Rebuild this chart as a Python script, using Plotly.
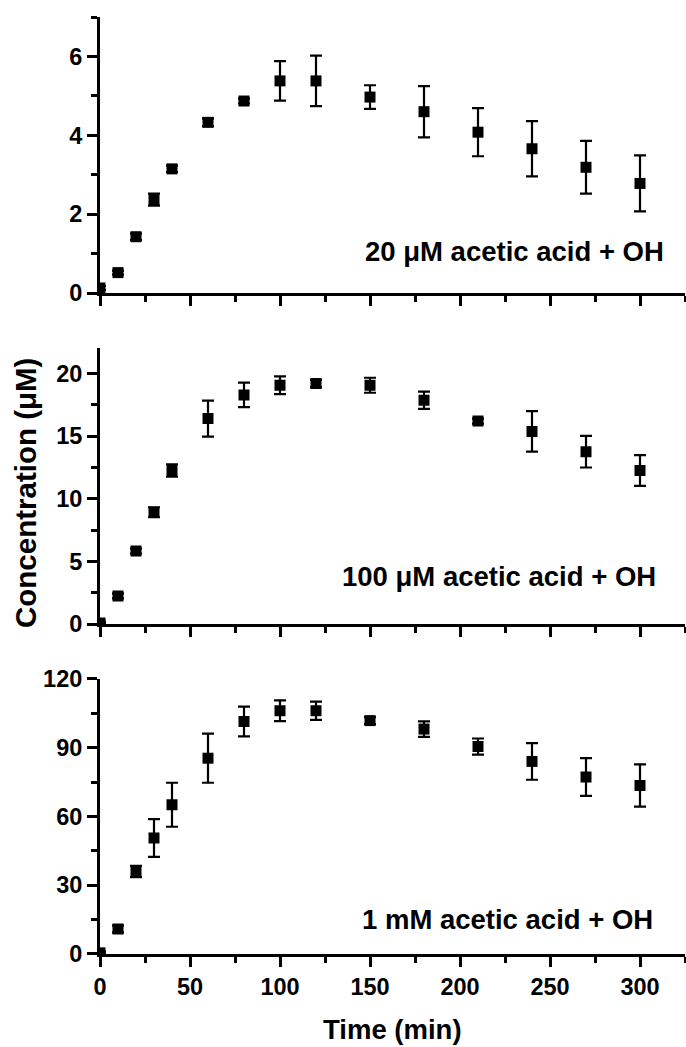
import plotly.graph_objects as go

# ---- data ----
time_min = [0, 10, 20, 30, 40, 60, 80, 100, 120, 150, 180, 210, 240, 270, 300]

conc_20uM = [0.13, 0.52, 1.43, 2.37, 3.15, 4.33, 4.87, 5.38, 5.38, 4.97, 4.60, 4.08, 3.66, 3.19, 2.78]
err_20uM = [0.05, 0.05, 0.08, 0.15, 0.08, 0.1, 0.06, 0.50, 0.64, 0.30, 0.65, 0.61, 0.70, 0.67, 0.71]

conc_100uM = [0.1, 2.26, 5.84, 8.93, 12.26, 16.4, 18.29, 19.06, 19.2, 19.06, 17.86, 16.2, 15.38, 13.76, 12.26]
err_100uM = [0.1, 0.2, 0.2, 0.4, 0.5, 1.43, 0.98, 0.70, 0.30, 0.60, 0.69, 0.2, 1.62, 1.26, 1.22]

conc_1mM = [0.5, 10.9, 36.0, 50.6, 65.1, 85.4, 101.4, 106.1, 106.1, 101.8, 98.1, 90.5, 84.0, 77.2, 73.5]
err_1mM = [0.5, 1.5, 2.5, 8.2, 9.6, 10.7, 6.5, 4.5, 4.0, 1.5, 3.4, 3.5, 8.0, 8.2, 9.2]

panel_labels = ["20 μM acetic acid + OH", "100 μM acetic acid + OH", "1 mM acetic acid + OH"]
x_title = "Time (min)"
y_title = "Concentration (μM)"

FONT = "Liberation Sans, Arial, sans-serif"

series = [
    (conc_20uM, err_20uM, "x", "y"),
    (conc_100uM, err_100uM, "x2", "y2"),
    (conc_1mM, err_1mM, "x3", "y3"),
]

fig = go.Figure()
for vals, errs, xa, ya in series:
    fig.add_trace(go.Scatter(
        x=time_min, y=vals, mode="markers", xaxis=xa, yaxis=ya,
        marker=dict(symbol="square", size=11, color="black"),
        error_y=dict(type="data", array=errs, visible=True, color="black",
                     thickness=2.2, width=6),
        showlegend=False,
    ))

H = 1047
top_px, bot_px = 16.7, 954.3
plot_h = bot_px - top_px

def dom(y_top, y_bot):
    return [(bot_px - y_bot) / plot_h, (bot_px - y_top) / plot_h]

domains = [dom(16.7, 293), dom(348.3, 624.3), dom(679, 954.3)]

axis_common = dict(
    showline=True, linewidth=3, linecolor="black", ticks="outside",
    ticklen=10, tickwidth=3, tickcolor="black", showgrid=False, zeroline=False,
    automargin=False,
    tickfont=dict(family=FONT, size=23.5, color="black", weight="bold"),
)

yranges = [(0, 7, 2, 1), (0, 22, 5, 2.5), (0, 120, 30, 15)]

layout = dict(
    width=686, height=H,
    margin=dict(l=100, r=1, t=17, b=93, autoexpand=False),
    plot_bgcolor="white", paper_bgcolor="white",
    font=dict(family=FONT, color="black"),
)

for i in range(3):
    sfx = "" if i == 0 else str(i + 1)
    layout["xaxis" + sfx] = dict(
        axis_common, domain=[0, 1], range=[0, 325], tick0=0, dtick=50,
        anchor="y" + sfx, showticklabels=(i == 2),
        minor=dict(ticks="outside", ticklen=6, tickwidth=3, tickcolor="black", dtick=25, tick0=0),
    )
    lo, hi, dt, mdt = yranges[i]
    layout["yaxis" + sfx] = dict(
        axis_common, domain=domains[i], range=[lo, hi], tick0=0, dtick=dt,
        anchor="x" + sfx,
        minor=dict(ticks="outside", ticklen=6, tickwidth=3, tickcolor="black", dtick=mdt, tick0=0),
    )

fig.update_layout(**layout)

label_pos = [(0.9675, 0.149), (0.954, 0.172), (0.949, 0.125)]
for i, (lab, (xd, yd)) in enumerate(zip(panel_labels, label_pos)):
    sfx = "" if i == 0 else str(i + 1)
    fig.add_annotation(
        text=lab, xref="x" + sfx + " domain", yref="y" + sfx + " domain",
        x=xd, y=yd, xanchor="right", yanchor="middle", showarrow=False,
        font=dict(family=FONT, size=27.5, color="black", weight="bold"),
    )

fig.add_annotation(
    text=x_title, xref="paper", yref="paper", x=0.5, y=(bot_px - 1030) / plot_h,
    xanchor="center", yanchor="middle", showarrow=False,
    font=dict(family=FONT, size=27.5, color="black", weight="bold"),
)
fig.add_annotation(
    text=y_title, xref="paper", yref="paper", x=(26 - 100) / 585, y=(bot_px - 493) / plot_h,
    xanchor="center", yanchor="middle", textangle=-90, showarrow=False,
    font=dict(family=FONT, size=29.5, color="black", weight="bold"),
)

fig.write_html(
    "out.html",
    config={"displayModeBar": False},
    post_script="document.body.style.margin='0';document.body.style.overflow='hidden';",
)
